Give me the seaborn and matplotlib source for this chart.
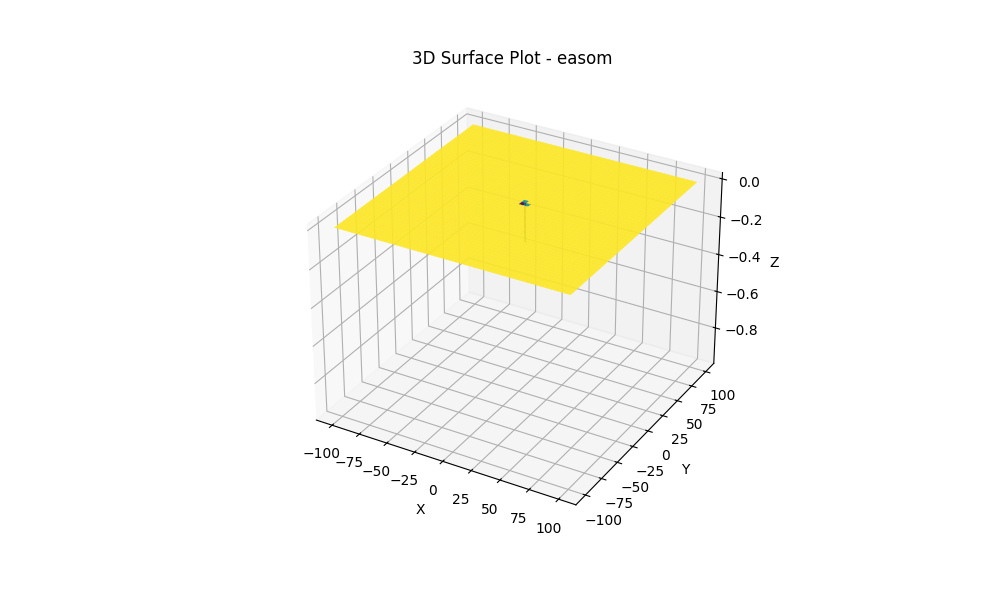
import numpy as np
import matplotlib
matplotlib.use('Agg')
import matplotlib.pyplot as plt
import seaborn as sns

title = '3D Surface Plot - easom'

# surface is flat at 0 except for the narrow dip near the centre
x_range = [-100, 100]
y_range = [-100, 100]
grid_size = 1000
flat_level = 0.0

# grid indices of the dip, depths
dip_center = 515
deepest_z = -0.978
bump_index = 505
bump_z = 0.012
edge_index = 520
edge_offsets = [-2, -1, 0, 1, 2]
edge_row_z = [-0.06, -0.14, -0.20, -0.14, -0.06]
edge_col_z = [-0.06, -0.14, -0.20, -0.14, -0.06]

x = np.linspace(x_range[0], x_range[1], grid_size)
y = np.linspace(y_range[0], y_range[1], grid_size)
X, Y = np.meshgrid(x, y)
Z = np.full(X.shape, flat_level)
Z[dip_center, dip_center] = deepest_z
Z[bump_index, dip_center] = bump_z
for off, zr, zc in zip(edge_offsets, edge_row_z, edge_col_z):
    Z[edge_index, dip_center + off] = zr
    Z[dip_center + off, edge_index] = zc

fig = plt.figure(figsize=(10, 6), dpi=100)
ax = fig.add_subplot(111, projection='3d')

cmap = sns.color_palette('viridis', as_cmap=True)
surf = ax.plot_surface(X, Y, Z, cmap=cmap, alpha=0.9)
surf.set_edgecolor('face')
surf.set_linewidth(0.3)

ax.set_title(title)
ax.set_xlabel('X')
ax.set_ylabel('Y')
ax.set_zlabel('Z')

plt.savefig('out.png')
plt.close()
